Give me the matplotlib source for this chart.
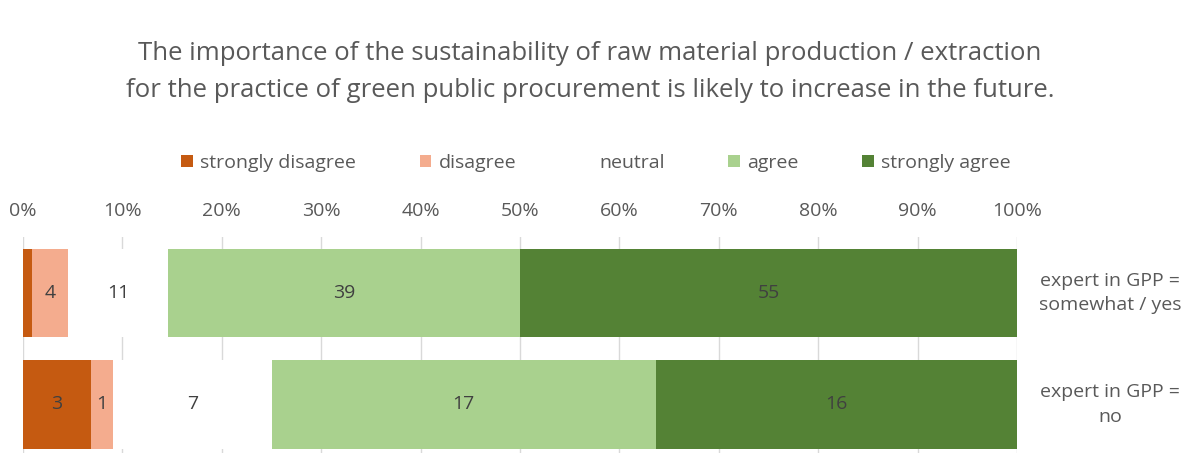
import numpy as np
import matplotlib.pyplot as plt
import matplotlib.ticker as mtick

# survey answers, counts of respondents per group
groups = ["expert in GPP =\nsomewhat / yes", "expert in GPP =\nno"]
answers = ["strongly disagree", "disagree", "neutral", "agree", "strongly agree"]
strongly_disagree = [1, 3]
disagree = [4, 1]
neutral = [11, 7]
agree = [39, 17]
strongly_agree = [55, 16]

colors = ["#C55A11", "#F4AC8E", "#FFFFFF", "#A9D18E", "#548235"]
show_label = [[False, True], [True, True], [True, True], [True, True], [True, True]]

plt.rcParams['font.family'] = ['Open Sans', 'DejaVu Sans']
txt = "#595959"

counts = np.array([strongly_disagree, disagree, neutral, agree, strongly_agree], dtype=float)
totals = counts.sum(axis=0)
shares = counts / totals

fig = plt.figure(figsize=(11.84, 4.53), dpi=100)
ax = fig.add_axes([23 / 1184, 0.0, 994 / 1184, 216 / 453])

y = np.arange(len(groups))
left = np.zeros(len(groups))
for i, name in enumerate(answers):
    ax.barh(y, shares[i], left=left, height=0.79, color=colors[i], label=name, zorder=2)
    for j in range(len(groups)):
        if show_label[i][j]:
            ax.text(left[j] + shares[i][j] / 2, y[j], f"{int(counts[i][j])}",
                    ha="center", va="center", fontsize=14, color="#404040", zorder=3)
    left += shares[i]

for j, g in enumerate(groups):
    ax.text(1.0935, y[j], g, transform=ax.get_yaxis_transform(), ha="center", va="center",
            fontsize=14, color=txt, linespacing=1.45)

ax.set_xlim(0, 1)
ax.set_ylim(1.435, -0.502)
ax.xaxis.set_major_locator(mtick.MultipleLocator(0.1))
ax.xaxis.set_major_formatter(mtick.PercentFormatter(1.0, decimals=0))
ax.xaxis.tick_top()
ax.tick_params(axis="x", length=0, pad=12, labelsize=14, labelcolor=txt)
ax.set_yticks([])
ax.grid(axis="x", color="#D9D9D9", linewidth=1, zorder=0)
for s in ax.spines.values():
    s.set_visible(False)

fig.suptitle("The importance of the sustainability of raw material production / extraction\n"
             "for the practice of green public procurement is likely to increase in the future.",
             x=590 / 1184, y=0.91, fontsize=18.5, color=txt, linespacing=1.62)

fig.legend(loc="center", bbox_to_anchor=(596 / 1184, 1 - 163 / 453), ncol=5, frameon=False,
           fontsize=14, labelcolor=txt, handlelength=0.6, handleheight=0.6,
           handletextpad=0.4, columnspacing=3.25)

fig.savefig("out.png", dpi=100)
